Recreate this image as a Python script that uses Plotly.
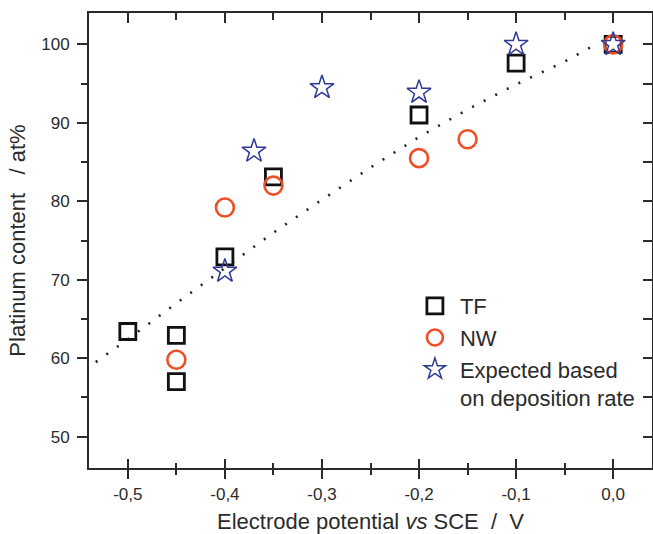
import plotly.graph_objects as go

# ---- data ----
tf_x = [-0.5, -0.45, -0.45, -0.4, -0.35, -0.2, -0.1, 0.0]
tf_y = [63.4, 62.9, 57.0, 72.9, 83.1, 91.0, 97.6, 100.0]

nw_x = [-0.45, -0.4, -0.35, -0.2, -0.15, 0.0]
nw_y = [59.8, 79.2, 82.0, 85.5, 87.9, 100.0]

exp_x = [-0.4, -0.37, -0.3, -0.2, -0.1, 0.0]
exp_y = [71.1, 86.4, 94.5, 93.9, 100.0, 100.0]

fit_x = [-0.533, -0.5, -0.45, -0.4, -0.35, -0.3, -0.25, -0.2, -0.15, -0.1, -0.05, -0.021]
fit_y = [59.5, 62.4, 67.0, 71.5, 76.0, 80.2, 84.3, 88.2, 91.7, 94.9, 97.8, 99.8]

x_ticks = [-0.5, -0.4, -0.3, -0.2, -0.1, 0.0]
x_ticktext = ["-0,5", "-0,4", "-0,3", "-0,2", "-0,1", "0,0"]
y_ticks = [50, 60, 70, 80, 90, 100]
y_ticktext = ["50", "60", "70", "80", "90", "100"]

X_RANGE = [-0.54, 0.04]
Y_RANGE = [46, 104]

AX = "#2b2b2b"
FONT = "Liberation Sans, Arial, sans-serif"

fig = go.Figure()

fig.add_trace(go.Scatter(x=fit_x, y=fit_y, mode="lines", showlegend=False,
                         line=dict(color="#222222", width=2.6, dash="2px,11px"),
                         hoverinfo="skip"))
fig.add_trace(go.Scatter(x=tf_x, y=tf_y, mode="markers", name="TF",
                         marker=dict(symbol="square-open", size=16, color="#111111",
                                     line=dict(width=2.8, color="#111111"))))
fig.add_trace(go.Scatter(x=nw_x, y=nw_y, mode="markers", name="NW",
                         marker=dict(symbol="circle-open", size=18, color="#EE4F26",
                                     line=dict(width=2.6, color="#EE4F26"))))
fig.add_trace(go.Scatter(x=exp_x, y=exp_y, mode="markers",
                         name="Expected based<br>on deposition rate",
                         marker=dict(symbol="star-open", size=18, color="#2E3A94",
                                     line=dict(width=1.5, color="#2E3A94"))))

# invisible traces to make the overlay (tick-only) axes appear
fig.add_trace(go.Scatter(x=tf_x, y=tf_y, xaxis="x2", yaxis="y2", mode="markers",
                         marker=dict(opacity=0), showlegend=False, hoverinfo="skip"))
fig.add_trace(go.Scatter(x=tf_x, y=tf_y, xaxis="x3", yaxis="y", mode="markers",
                         marker=dict(opacity=0), showlegend=False, hoverinfo="skip"))

common_x = dict(range=X_RANGE, autorange=False, showgrid=False, zeroline=False,
                showline=True, linecolor=AX, linewidth=2, tickcolor=AX, tickwidth=2,
                tickvals=x_ticks, automargin=False)

fig.update_layout(
    width=653, height=534,
    margin=dict(l=89, r=1, t=13, b=66),
    paper_bgcolor="white", plot_bgcolor="white",
    font=dict(family=FONT, color="#2b2b2b"),
    xaxis=dict(**common_x, ticktext=x_ticktext, ticks="outside", ticklen=9,
               ticklabelstandoff=1,
               minor=dict(dtick=0.05, tick0=0, ticks="outside", ticklen=5,
                          tickcolor=AX, tickwidth=2),
               tickfont=dict(size=17, family=FONT, color="#2b2b2b"),
               title=dict(text="Electrode potential <i>vs</i> SCE \u00a0/\u00a0 V",
                          font=dict(size=22, family=FONT, color="#2b2b2b"), standoff=15)),
    xaxis3=dict(**common_x, overlaying="x", side="bottom", anchor="y",
                ticks="inside", ticklen=9, showticklabels=False,
                minor=dict(dtick=0.05, tick0=0, ticks="inside", ticklen=5,
                           tickcolor=AX, tickwidth=2)),
    xaxis2=dict(**common_x, overlaying="x", side="top", anchor="y2",
                ticks="inside", ticklen=10, showticklabels=False,
                minor=dict(dtick=0.05, tick0=0, ticks="inside", ticklen=7,
                           tickcolor=AX, tickwidth=2)),
    yaxis=dict(range=Y_RANGE, autorange=False, showgrid=False, zeroline=False,
               automargin=False,
               showline=True, linecolor=AX, linewidth=2, tickcolor=AX, tickwidth=2,
               tickvals=y_ticks, ticktext=y_ticktext, ticks="outside", ticklen=10,
               ticklabelstandoff=4,
               minor=dict(dtick=5, tick0=0, ticks="outside", ticklen=6,
                          tickcolor=AX, tickwidth=2),
               tickfont=dict(size=17, family=FONT, color="#2b2b2b"),
               title=dict(text="Platinum content \u00a0\u00a0/ at%",
                          font=dict(size=22, family=FONT, color="#2b2b2b"), standoff=10)),
    yaxis2=dict(range=Y_RANGE, autorange=False, showgrid=False, zeroline=False,
                overlaying="y", side="right", anchor="x2", automargin=False,
                showline=True, linecolor=AX, linewidth=2, tickcolor=AX, tickwidth=2,
                tickvals=y_ticks, ticks="inside", ticklen=9, showticklabels=False,
                minor=dict(dtick=5, tick0=0, ticks="inside", ticklen=9,
                           tickcolor=AX, tickwidth=2)),
    legend=dict(x=0.57, y=0.402, xanchor="left", yanchor="top",
                bgcolor="rgba(0,0,0,0)", borderwidth=0, valign="top",
                font=dict(size=22, family=FONT, color="#2b2b2b"),
                itemwidth=40, tracegroupgap=0),
    showlegend=True,
)

fig.write_html("out.html")
